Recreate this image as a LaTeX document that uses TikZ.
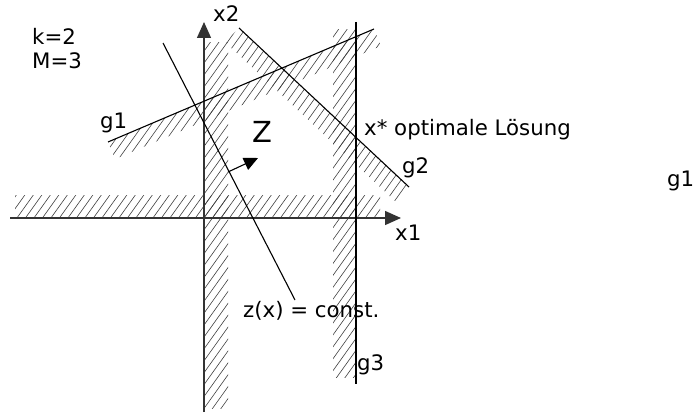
\documentclass[tikz,border=0pt]{standalone}
\usepackage{fontspec}
\setmainfont{DejaVu Sans}
\usetikzlibrary{arrows.meta}
\newcommand{\hatchband}[1]{\begin{scope}\clip #1;\foreach \k in {-320,-311.5,...,720} \draw[hatchline] (\k,440)--++(314,-440);\end{scope}}
\begin{document}
\begin{tikzpicture}[x=1pt,y=-1pt,font=\fontsize{21.3}{25}\selectfont,
  hatchline/.style={line width=0.6pt,black!75},
  axis/.style={line width=1.4pt,black!80,-{Triangle[length=16pt,width=14pt]}},
  gline/.style={line width=1.1pt},
  lbl/.style={anchor=base west,inner sep=0pt}]
\useasboundingbox (0,0) rectangle (698,412);
\hatchband{(15,195) rectangle (380,218)} \hatchband{(204,43) rectangle (228,408)}
\hatchband{(333,30) rectangle (356,377)}
\hatchband{(108,142)--(374,29)--(381,46)--(115,159)--cycle}
\hatchband{(239,28)--(409,187)--(395,201)--(225,42)--cycle}
\coordinate (x2s) at (204,412); \coordinate (x2e) at (204,22);
\coordinate (x1s) at (10,218); \coordinate (x1e) at (401,218);
\coordinate (g1a) at (108,142); \coordinate (g1b) at (374,29);
\coordinate (g2a) at (239,28); \coordinate (g2b) at (409,187);
\coordinate (g3a) at (356,22); \coordinate (g3b) at (356,384);
\coordinate (za) at (163,43); \coordinate (zb) at (295,300);
\coordinate (da) at (228,172); \coordinate (db) at (258,158);
\draw[axis] (x1s)--(x1e); \draw[axis] (x2s)--(x2e);
\draw[gline] (g1a)--(g1b); \draw[gline] (g2a)--(g2b); \draw[gline] (g3a)--(g3b);
\draw[gline] (za)--(zb);
\draw[gline,-{Triangle[length=14pt,width=13pt]}] (da)--(db);
\node[lbl] (k) at (32,45) {k=2}; \node[lbl] (m) at (32,68) {M=3};
\node[lbl] (lx2) at (213,22) {x2}; \node[lbl] (lx1) at (395,240) {x1};
\node[lbl] (lg1) at (100,128) {g1};
\node[lbl,font=\fontsize{29}{34}\selectfont] (lz) at (252,142) {Z};
\node[lbl] (opt) at (364,135) {x* optimale Lösung};
\node[lbl] (lg2) at (402,173) {g2};
\node[lbl] (zc) at (243,317) {z(x) = const.};
\node[lbl] (lg3) at (357,370) {g3};
\node[lbl] (lg1r) at (667,186) {g1};
\end{tikzpicture}
\end{document}
